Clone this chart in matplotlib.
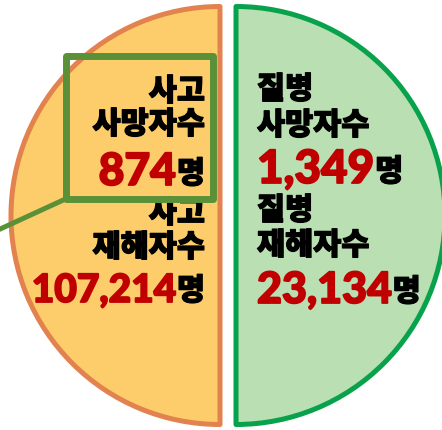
import matplotlib
matplotlib.use('Agg')
import matplotlib.pyplot as plt
import matplotlib.patheffects as pe
from matplotlib.patches import Rectangle

plt.rcParams['font.family'] = ['Noto Sans CJK JP', 'DejaVu Sans']

# 데이터
groups = ['사고', '질병']
metrics = ['사망자수', '재해자수']
accident_values = [874, 107214]
disease_values = [1349, 23134]
half_shares = [1, 1]
unit = '명'

fill_colors = ['#FCCD6A', '#B9DFB3']
edge_colors = ['#E2834F', '#07A24B']
red = '#C00000'
box_green = '#5A9138'

fig = plt.figure(figsize=(4.42, 4.30), dpi=100)
ax = fig.add_axes([0, 0, 1, 1])

# 반원 두 개 (explode 는 데이터 단위)
wedges, _ = ax.pie(half_shares, startangle=90, counterclock=True,
                   center=(228, 215.5), radius=209,
                   explode=[8, 8], colors=fill_colors,
                   wedgeprops=dict(linewidth=3.6, joinstyle='round'),
                   frame=True)
for w, ec in zip(wedges, edge_colors):
    w.set_edgecolor(ec)

ax.set_xlim(0, 442)
ax.set_ylim(430, 0)
ax.set_aspect('auto')
ax.axis('off')

fig.canvas.draw()
renderer = fig.canvas.get_renderer()

# 글자를 조금 더 굵게
thick_black = [pe.withStroke(linewidth=0.9, foreground='black')]
thick_red = [pe.withStroke(linewidth=1.3, foreground=red)]

label_fs = 22
label_kw = dict(fontsize=label_fs, fontweight=900, color='black', zorder=3,
                path_effects=thick_black)
num_kw = dict(family=['Lato', 'DejaVu Sans'], fontweight=900, color=red,
              zorder=3, path_effects=thick_red)

# (그룹 y, 지표 y, 숫자 기준선, 숫자 크기)
left_rows = [(91, 124, 185, 32), (213, 247, 302, 28)]
right_rows = [(89, 125, 183, 33), (210, 245, 303, 31)]


def width_of(t):
    return t.get_window_extent(renderer=renderer).width


# 왼쪽(사고): 오른쪽 정렬
x_right = 205
for (y1, y2, yb, nfs), metric, val in zip(left_rows, metrics, accident_values):
    ax.text(x_right, y1, groups[0], ha='right', va='center', **label_kw)
    ax.text(x_right, y2, metric, ha='right', va='center', **label_kw)
    tu = ax.text(x_right, yb - 2, unit, ha='right', va='baseline', **label_kw)
    ax.text(x_right - width_of(tu) - 1, yb, f'{val:,}', ha='right',
            va='baseline', fontsize=nfs, **num_kw)

# 오른쪽(질병): 왼쪽 정렬
x_left = 257
for (y1, y2, yb, nfs), metric, val in zip(right_rows, metrics, disease_values):
    ax.text(x_left, y1, groups[1], ha='left', va='center', **label_kw)
    ax.text(x_left, y2, metric, ha='left', va='center', **label_kw)
    tn = ax.text(x_left, yb, f'{val:,}', ha='left', va='baseline',
                 fontsize=nfs, **num_kw)
    ax.text(x_left + width_of(tn) + 1, yb - 2, unit, ha='left',
            va='baseline', **label_kw)

# 강조 박스와 지시선
ax.add_patch(Rectangle((65.5, 56), 147.5, 143, fill=False, edgecolor=box_green,
                       linewidth=5, joinstyle='round', zorder=4))
ax.plot([65.5, -2], [199, 230], color=box_green, linewidth=3.6,
        solid_capstyle='round', zorder=4)

fig.savefig('out.png', dpi=100)
